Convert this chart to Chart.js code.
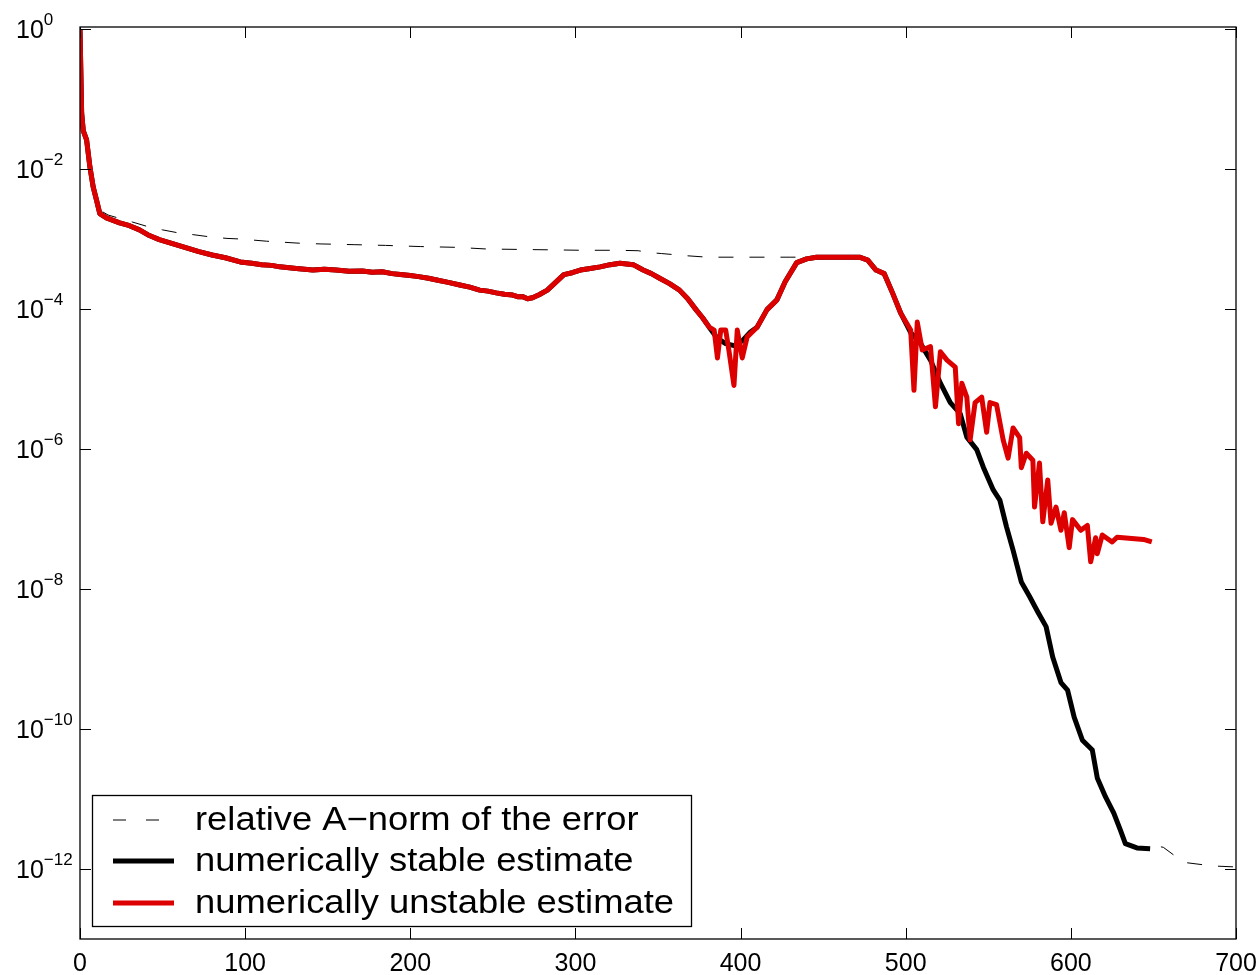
<!DOCTYPE html>
<html>
<head>
<meta charset="utf-8">
<script src="https://cdn.jsdelivr.net/npm/chart.js@4/dist/chart.umd.min.js"></script>
<style>
  html, body { margin: 0; padding: 0; background: #fff; }
  #wrap { width: 1259px; height: 975px; }
</style>
</head>
<body>
<div id="wrap"><canvas id="chart" width="1259" height="975"></canvas></div>
<script>
// Series labels (legend order)
const seriesLabels = ['relative A\u2212norm of the error', 'numerically stable estimate', 'numerically unstable estimate'];

// Axis ticks
const xTicks = [0, 100, 200, 300, 400, 500, 600, 700];
const yTickExponents = [0, -2, -4, -6, -8, -10, -12];

// relative A-norm of the error (dashed)
const errorIter = [0, 1, 2, 4, 6, 8, 10, 13, 17, 23, 32, 42, 50, 59, 69, 79, 89, 97, 113, 133, 146, 166, 185, 206, 228, 246, 265, 285, 304, 326, 338, 345, 352, 359, 368, 380, 400, 430, 446, 472,
  477, 482, 487, 492, 497, 503, 509, 515, 521, 527, 533, 537, 543, 547, 553, 557, 561, 565, 570, 575, 580, 585, 589, 594, 598, 602, 607, 613, 616, 621, 626, 630, 633, 640, 648,
  649, 656, 664, 670, 680, 688, 700];
const errorValue = [1, 6.3e-2, 3.5e-2, 2.6e-2, 1.1e-2, 5.6e-3, 3.7e-3, 2.5e-3, 2.2e-3, 2.0e-3, 1.74e-3, 1.48e-3, 1.35e-3, 1.23e-3, 1.15e-3, 1.07e-3, 1.02e-3, 1.0e-3, 9.3e-4, 8.7e-4, 8.5e-4, 8.3e-4, 8.1e-4, 7.8e-4, 7.6e-4, 7.2e-4, 7.1e-4, 7.0e-4, 6.9e-4, 6.9e-4, 6.8e-4, 6.4e-4, 6.2e-4, 6.0e-4, 5.75e-4, 5.5e-4, 5.5e-4, 5.5e-4, 5.5e-4, 5.5e-4,
  5.0e-4, 3.6e-4, 3.2e-4, 1.7e-4, 8.7e-5, 4.6e-5, 3.2e-5, 1.86e-5, 8.7e-6, 4.6e-6, 3.2e-6, 1.48e-6, 9.8e-7, 5.5e-7, 2.6e-7, 1.86e-7, 7.8e-8, 3.6e-8, 1.26e-8, 7.8e-9, 4.7e-9, 2.9e-9, 1.07e-9, 4.6e-10, 3.6e-10, 1.48e-10, 6.9e-11, 5.0e-11, 2.0e-11, 1.07e-11, 6.3e-12, 3.6e-12, 2.3e-12, 2.0e-12, 1.95e-12,
  2.2e-12, 2.04e-12, 1.48e-12, 1.23e-12, 1.15e-12, 1.1e-12, 1.07e-12];

// numerically stable estimate (black)
const stableIter = [0, 1, 2, 4, 6, 8, 10, 12, 16, 24, 30, 36, 42, 48, 56, 65, 72, 80, 88, 97, 104, 110, 116, 121, 131, 141, 148, 155, 163, 171, 177, 183, 189, 194, 200, 205, 211, 216, 223, 230, 236, 242, 247, 252, 257, 262, 265, 268, 271, 274, 278, 283, 288, 293, 298, 303, 309, 315, 321, 327, 335, 341, 346, 351, 357, 363, 368, 373, 377, 381,
  386, 391, 396, 401, 406, 410, 416, 422, 427, 434, 440, 446, 472, 477, 482, 487, 492, 497,
  503, 509, 515, 521, 527, 533, 537, 543, 547, 553, 557, 561, 565, 570, 575, 580, 585, 589, 594, 598, 602, 607, 613, 616, 621, 626, 630, 633, 640, 648];
const stableValue = [1, 6.3e-2, 3.5e-2, 2.6e-2, 1.07e-2, 5.5e-3, 3.6e-3, 2.3e-3, 2.0e-3, 1.7e-3, 1.55e-3, 1.35e-3, 1.12e-3, 9.8e-4, 8.6e-4, 7.4e-4, 6.6e-4, 5.9e-4, 5.4e-4, 4.7e-4, 4.5e-4, 4.3e-4, 4.2e-4, 4.0e-4, 3.8e-4, 3.6e-4, 3.7e-4, 3.6e-4, 3.45e-4, 3.5e-4, 3.35e-4, 3.4e-4, 3.2e-4, 3.1e-4, 3.0e-4, 2.9e-4, 2.75e-4, 2.6e-4, 2.4e-4, 2.2e-4, 2.05e-4, 1.86e-4, 1.8e-4, 1.7e-4, 1.62e-4, 1.58e-4, 1.5e-4, 1.5e-4, 1.4e-4, 1.45e-4, 1.6e-4, 1.86e-4, 2.4e-4, 3.1e-4, 3.3e-4, 3.6e-4, 3.8e-4, 4.0e-4, 4.3e-4, 4.5e-4, 4.3e-4, 3.6e-4, 3.2e-4, 2.75e-4, 2.3e-4, 1.86e-4, 1.4e-4, 9.8e-5, 7.5e-5, 5.5e-5,
  3.8e-5, 3.2e-5, 3.0e-5, 3.5e-5, 4.7e-5, 5.5e-5, 9.8e-5, 1.35e-4, 2.45e-4, 4.6e-4, 5.2e-4, 5.5e-4, 5.5e-4, 5.0e-4, 3.6e-4, 3.2e-4, 1.7e-4, 8.7e-5,
  4.6e-5, 3.2e-5, 1.86e-5, 8.7e-6, 4.6e-6, 3.2e-6, 1.48e-6, 9.8e-7, 5.5e-7, 2.6e-7, 1.86e-7, 7.8e-8, 3.6e-8, 1.26e-8, 7.8e-9, 4.7e-9, 2.9e-9, 1.07e-9, 4.6e-10, 3.6e-10, 1.48e-10, 6.9e-11, 5.0e-11, 2.0e-11, 1.07e-11, 6.3e-12, 3.6e-12, 2.3e-12, 2.0e-12, 1.95e-12];

// numerically unstable estimate (red)
const unstableIter = [0, 1, 2, 4, 6, 8, 10, 12, 16, 24, 30, 36, 42, 48, 56, 65, 72, 80, 88, 97, 104, 110, 116, 121, 131, 141, 148, 155, 163, 171, 177, 183, 189, 194, 200, 205, 211, 216, 223, 230, 236, 242, 247, 252, 257, 262, 265, 268, 271, 274, 278, 283, 288, 293, 298, 303, 309, 315, 321, 327, 335, 341, 346, 351, 357, 363, 368, 373, 377, 381,
  384, 386, 388, 391, 393, 396, 398, 401, 404, 410, 416, 422, 427, 434, 440, 446, 472, 477, 482, 487, 492, 497,
  503, 505, 507, 510, 515, 518, 521, 525, 530, 532, 534, 537, 539, 542, 546, 549, 551, 555, 559, 562, 565, 569, 570, 573, 577, 578, 581, 583, 586, 588, 591, 594, 596, 599, 601, 606, 610, 612, 615, 616, 619, 625, 628, 644, 649];
const unstableValue = [1, 6.3e-2, 3.5e-2, 2.6e-2, 1.07e-2, 5.5e-3, 3.6e-3, 2.3e-3, 2.0e-3, 1.7e-3, 1.55e-3, 1.35e-3, 1.12e-3, 9.8e-4, 8.6e-4, 7.4e-4, 6.6e-4, 5.9e-4, 5.4e-4, 4.7e-4, 4.5e-4, 4.3e-4, 4.2e-4, 4.0e-4, 3.8e-4, 3.6e-4, 3.7e-4, 3.6e-4, 3.45e-4, 3.5e-4, 3.35e-4, 3.4e-4, 3.2e-4, 3.1e-4, 3.0e-4, 2.9e-4, 2.75e-4, 2.6e-4, 2.4e-4, 2.2e-4, 2.05e-4, 1.86e-4, 1.8e-4, 1.7e-4, 1.62e-4, 1.58e-4, 1.5e-4, 1.5e-4, 1.4e-4, 1.45e-4, 1.6e-4, 1.86e-4, 2.4e-4, 3.1e-4, 3.3e-4, 3.6e-4, 3.8e-4, 4.0e-4, 4.3e-4, 4.5e-4, 4.3e-4, 3.6e-4, 3.2e-4, 2.75e-4, 2.3e-4, 1.86e-4, 1.4e-4, 9.8e-5, 7.5e-5, 5.5e-5,
  5.0e-5, 2.0e-5, 5.0e-5, 5.0e-5, 2.5e-5, 8.1e-6, 5.0e-5, 2.0e-5, 4.0e-5, 5.5e-5, 9.8e-5, 1.35e-4, 2.45e-4, 4.6e-4, 5.2e-4, 5.5e-4, 5.5e-4, 5.0e-4, 3.6e-4, 3.2e-4, 1.7e-4, 8.7e-5,
  5.0e-5, 6.9e-6, 6.5e-5, 2.6e-5, 2.9e-5, 4.0e-6, 2.45e-5, 1.86e-5, 1.48e-5, 2.3e-6, 8.7e-6, 5.5e-6, 1.35e-6, 4.6e-6, 5.5e-6, 1.74e-6, 4.6e-6, 4.3e-6, 1.35e-6, 7.4e-7, 2.0e-6, 1.45e-6, 5.4e-7, 8.7e-7, 6.9e-7, 1.48e-7, 6.3e-7, 9.1e-8, 3.6e-7, 8.7e-8, 1.48e-7, 6.9e-8, 1.23e-7, 3.9e-8, 9.8e-8, 6.9e-8, 8.1e-8, 2.45e-8, 5.4e-8, 3.2e-8, 5.9e-8, 4.7e-8, 5.5e-8, 5.1e-8, 4.7e-8];

const FONT = '"Liberation Sans", Arial, Helvetica, sans-serif';
const RED = '#dd0000';

function toPoints(xs, ys) {
  return xs.map((x, i) => ({ x: x, y: ys[i] }));
}

// frame, inward ticks, tick labels (10^n) and the boxed legend
const axesPlugin = {
  id: 'matlabAxes',
  afterDraw(chart) {
    const ctx = chart.ctx;
    const area = chart.chartArea;
    const xs = chart.scales.x;
    const ys = chart.scales.y;
    const tickLen = 11;

    ctx.save();
    ctx.strokeStyle = '#000';
    ctx.lineWidth = 1.3;
    ctx.strokeRect(area.left, area.top, area.right - area.left, area.bottom - area.top);

    ctx.lineWidth = 1;
    ctx.beginPath();
    xTicks.forEach(v => {
      const px = Math.round(xs.getPixelForValue(v)) + 0.5;
      ctx.moveTo(px, area.bottom); ctx.lineTo(px, area.bottom - tickLen);
      ctx.moveTo(px, area.top); ctx.lineTo(px, area.top + tickLen);
    });
    yTickExponents.forEach(e => {
      const py = Math.round(ys.getPixelForValue(Math.pow(10, e))) + 0.5;
      ctx.moveTo(area.left, py); ctx.lineTo(area.left + tickLen, py);
      ctx.moveTo(area.right, py); ctx.lineTo(area.right - tickLen, py);
    });
    ctx.stroke();

    // x tick labels
    ctx.fillStyle = '#000';
    ctx.font = '25px ' + FONT;
    ctx.textAlign = 'center';
    ctx.textBaseline = 'alphabetic';
    xTicks.forEach(v => {
      ctx.fillText(String(v), xs.getPixelForValue(v), area.bottom + 32);
    });

    // y tick labels: "10" with superscript exponent
    ctx.textAlign = 'left';
    yTickExponents.forEach(e => {
      const py = ys.getPixelForValue(Math.pow(10, e));
      ctx.font = '25px ' + FONT;
      ctx.fillText('10', 16, py + 9);
      const w = ctx.measureText('10').width;
      ctx.font = '17px ' + FONT;
      ctx.fillText(e === 0 ? '0' : '\u2212' + Math.abs(e), 16 + w, py - 4);
    });

    // legend
    const box = { left: 92.5, top: 795.5, width: 599, height: 131 };
    ctx.fillStyle = '#fff';
    ctx.fillRect(box.left, box.top, box.width, box.height);
    ctx.strokeStyle = '#000';
    ctx.lineWidth = 1.3;
    ctx.strokeRect(box.left, box.top, box.width, box.height);

    const rows = [820, 861, 903];
    const textWidth = 479; // width of the longest label in the reference
    ctx.font = '33px ' + FONT;
    const longest = Math.max(...chart.data.datasets.map(ds => ctx.measureText(ds.label).width));
    const sx = textWidth / longest;
    chart.data.datasets.forEach((ds, i) => {
      const y = rows[i];
      ctx.beginPath();
      ctx.strokeStyle = ds.borderColor;
      ctx.lineWidth = ds.borderWidth;
      ctx.setLineDash(ds.borderDash ? [13, 20] : []);
      ctx.moveTo(113, y);
      ctx.lineTo(174, y);
      ctx.stroke();
      ctx.setLineDash([]);
      ctx.fillStyle = '#000';
      ctx.textBaseline = 'middle';
      ctx.save();
      ctx.translate(195, y + 1);
      ctx.scale(sx, 1);
      ctx.fillText(ds.label, 0, 0);
      ctx.restore();
    });
    ctx.restore();
  }
};

new Chart(document.getElementById('chart'), {
  type: 'line',
  data: {
    datasets: [
      {
        label: seriesLabels[0],
        data: toPoints(errorIter, errorValue),
        borderColor: '#000',
        borderWidth: 1,
        borderDash: [15, 16],
        order: 3
      },
      {
        label: seriesLabels[1],
        data: toPoints(stableIter, stableValue),
        borderColor: '#000',
        borderWidth: 5,
        order: 2
      },
      {
        label: seriesLabels[2],
        data: toPoints(unstableIter, unstableValue),
        borderColor: RED,
        borderWidth: 5,
        order: 1
      }
    ]
  },
  options: {
    responsive: false,
    animation: false,
    devicePixelRatio: 1,
    layout: { padding: { left: 80, right: 23, top: 27, bottom: 36 } },
    elements: {
      point: { radius: 0 },
      line: { tension: 0, fill: false, borderJoinStyle: 'round', borderCapStyle: 'butt' }
    },
    datasets: { line: { clip: 0 } },
    scales: {
      x: { type: 'linear', min: 0, max: 700, display: false },
      y: { type: 'logarithmic', min: 1e-13, max: 1.068, display: false }
    },
    plugins: {
      legend: { display: false },
      tooltip: { enabled: false }
    }
  },
  plugins: [axesPlugin]
});
</script>
</body>
</html>
